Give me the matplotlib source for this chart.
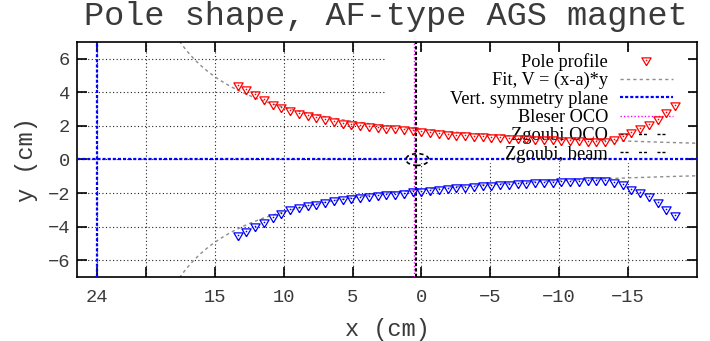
import numpy as np
import matplotlib
matplotlib.use('Agg')
import matplotlib.pyplot as plt
from matplotlib.lines import Line2D
from matplotlib.patches import Ellipse, Rectangle

# ---------------- data ----------------
x_cm = [13.335, 12.700, 12.065, 11.430, 10.795, 10.160, 9.525, 8.890, 8.255, 7.620,
        6.985, 6.350, 5.715, 5.080, 4.445, 3.810, 3.175, 2.540, 1.905, 1.270,
        0.635, 0.000, -0.635, -1.270, -1.905, -2.540, -3.175, -3.810, -4.445, -5.080,
        -5.715, -6.350, -6.985, -7.620, -8.255, -8.890, -9.525, -10.160, -10.795, -11.430,
        -12.065, -12.700, -13.335, -13.970, -14.605, -15.240, -15.875, -16.510, -17.145, -17.780,
        -18.415]
y_upper = [4.45, 4.22, 3.90, 3.58, 3.32, 3.10, 2.92, 2.78, 2.65, 2.54,
           2.44, 2.32, 2.20, 2.14, 2.06, 1.99, 1.94, 1.90, 1.85, 1.80,
           1.75, 1.68, 1.62, 1.56, 1.52, 1.48, 1.45, 1.42, 1.39, 1.36,
           1.33, 1.30, 1.28, 1.26, 1.24, 1.22, 1.20, 1.18, 1.16, 1.14,
           1.12, 1.10, 1.09, 1.22, 1.40, 1.64, 1.88, 2.14, 2.44, 2.84,
           3.24]
y_lower = [-4.52, -4.28, -3.98, -3.72, -3.43, -3.17, -2.95, -2.83, -2.73, -2.63,
           -2.53, -2.43, -2.35, -2.29, -2.23, -2.18, -2.13, -2.08, -2.03, -1.97,
           -1.90, -1.85, -1.80, -1.75, -1.70, -1.65, -1.61, -1.57, -1.53, -1.50,
           -1.47, -1.44, -1.41, -1.38, -1.36, -1.34, -1.32, -1.30, -1.28, -1.26,
           -1.24, -1.22, -1.21, -1.32, -1.47, -1.73, -1.93, -2.19, -2.53, -2.93,
           -3.33]
fit_a = 23.55          # cm, vertical symmetry plane
fit_V = 42.2           # cm^2
bleser_oco_x = 0.53
zgoubi_oco_x = 0.36
beam_center_x = 0.30
beam_width = 1.66
beam_height = 0.70

xtick_vals = [fit_a, 20, 15, 10, 5, 0, -5, -10, -15]
xtick_labels = ['24', '', '15', '10', '5', '0', '\u22125', '\u221210', '\u221215']
ytick_vals = [-6, -4, -2, 0, 2, 4, 6]
ytick_labels = ['\u22126', '\u22124', '\u22122', '0', '2', '4', '6']
legend_labels = ['Pole profile', 'Fit, V = (x-a)*y', 'Vert. symmetry plane',
                 'Bleser OCO', 'Zgoubi OCO', 'Zgoubi, beam']
title = 'Pole shape, AF-type AGS magnet'

# ---------------- figure ----------------
W, H = 710, 341
fig = plt.figure(figsize=(W / 100, H / 100), dpi=100)
ax = fig.add_axes([77 / W, (H - 277) / H, 620 / W, 235 / H])
ax.set_xlim(25, -20)
ax.set_ylim(-7, 7)
ax.set_axisbelow(True)

mono = 'Liberation Mono'
serif = 'Liberation Serif'
txtcol = '#3a3a3a'

ax.grid(True, color='#222222', linestyle=(0, (1, 2.2)), linewidth=0.8)
for s in ax.spines.values():
    s.set_linewidth(1.2)
ax.set_xticks(xtick_vals)
ax.set_xticklabels(xtick_labels, fontfamily=mono, fontsize=13.5, color=txtcol)
ax.set_yticks(ytick_vals)
ax.set_yticklabels(ytick_labels, fontfamily=mono, fontsize=13.5, color=txtcol)
ax.tick_params(direction='in', length=7, width=1.2, top=True, right=True)
ax.tick_params(axis='x', pad=8.5)
ax.tick_params(axis='y', pad=5)

# opaque key area (covers grid only)
ax.add_patch(Rectangle((0.497, 0.485), 0.985 - 0.497, 0.957 - 0.485,
                       transform=ax.transAxes, facecolor='white',
                       edgecolor='none', zorder=1))

# fit curves
xf = np.linspace(18.5, -20, 400)
yf = fit_V / (fit_a - xf)
fit_kw = dict(color='#8c8c8c', linewidth=1.0, linestyle=(0, (2.3, 2.3)), zorder=2)
ax.plot(xf, yf, **fit_kw)
ax.plot(xf, -yf, **fit_kw)

# symmetry planes
sym_kw = dict(color='#0000ff', linewidth=1.6, linestyle=(0, (1.4, 0.9)), zorder=3)
ax.axvline(fit_a, **sym_kw)
ax.axhline(0, **sym_kw)

# OCOs
ax.axvline(bleser_oco_x, color='#ff00ff', linewidth=1.0, linestyle=(0, (1, 1.5)), zorder=3)
ax.axvline(zgoubi_oco_x, color='black', linewidth=1.5, linestyle=(0, (1.6, 1.0)), zorder=3)

# beam
ax.add_patch(Ellipse((beam_center_x, 0), beam_width, beam_height, fill=False,
                     edgecolor='black', linewidth=1.2, linestyle=(0, (2.5, 2)), zorder=4))

# pole profile
tri = [(0, -1.133), (-1, 0.567), (1, 0.567), (0, -1.133)]
for yy, col in ((y_upper, '#ff0000'), (y_lower, '#0000ff')):
    ax.plot(x_cm, yy, linestyle='none', marker=tri, markersize=7.5,
            markerfacecolor='none', markeredgecolor=col, markeredgewidth=0.9, zorder=5)
    ax.plot(x_cm, yy, linestyle='none', marker='o', markersize=1.2,
            markerfacecolor=col, markeredgewidth=0, zorder=5)

# legend
h_tri = Line2D([], [], linestyle='none', marker=tri, markersize=7.5,
               markerfacecolor='none', markeredgecolor='#ff0000', markeredgewidth=0.9)
h_dot = Line2D([], [], linestyle='none', marker='o', markersize=1.2,
               markerfacecolor='#ff0000', markeredgewidth=0)
h_fit = Line2D([], [], **fit_kw)
h_sym = Line2D([], [], **sym_kw)
h_bl = Line2D([], [], color='#ff00ff', linewidth=1.0, linestyle=(0, (1, 1.5)))
h_zo = Line2D([], [], color='black', linewidth=1.0, linestyle=(0, (2.2, 1.4, 2.2, 7.5)))
h_zb = Line2D([], [], color='black', linewidth=1.0, linestyle=(0, (2.2, 1.4, 2.2, 7.5)))
leg = ax.legend([(h_tri, h_dot), h_fit, h_sym, h_bl, h_zo, h_zb], legend_labels,
                loc='upper right', bbox_to_anchor=((673 - 77) / 620, (277 - 53) / 235),
                markerfirst=False, frameon=False, borderpad=0, borderaxespad=0,
                handlelength=2.9, handletextpad=0.65, labelspacing=0.07,
                prop={'family': serif, 'size': 13.2})
leg.set_zorder(4)

ax.set_xlabel('x (cm)', fontfamily=mono, fontsize=17, color=txtcol, labelpad=9)
ax.set_ylabel('y (cm)', fontfamily=mono, fontsize=17, color=txtcol, labelpad=7)
fig.text(386 / W, 1 - 17 / H, title, ha='center', va='center',
         fontfamily=mono, fontsize=24.2, color=txtcol)

fig.savefig('out.png', dpi=100)
